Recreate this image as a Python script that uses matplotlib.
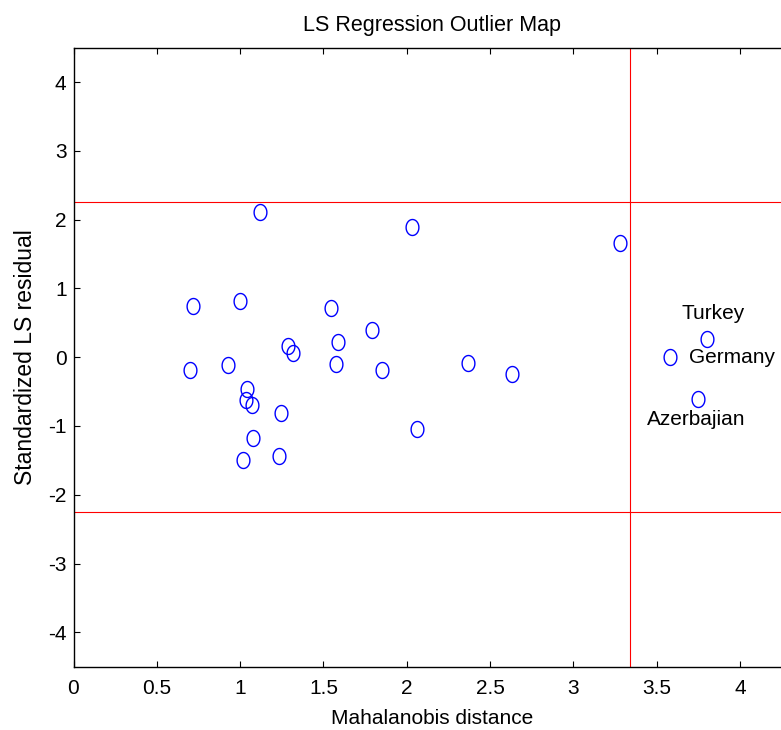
import numpy as np
import matplotlib
matplotlib.use("Agg")
import matplotlib.pyplot as plt
from matplotlib.path import Path

plt.rcParams['font.family'] = ['Liberation Sans', 'DejaVu Sans']
plt.rcParams['axes.unicode_minus'] = False

# Data
mahal = [0.72, 1.00, 1.12, 0.70, 0.93, 1.04, 1.035, 1.07, 1.08, 1.02, 1.245, 1.235,
         1.29, 1.32, 1.545, 1.585, 1.575, 1.79, 1.85, 2.03, 2.06, 2.37, 2.63,
         3.28, 3.80, 3.58, 3.75]
resid = [0.74, 0.82, 2.11, -0.18, -0.12, -0.46, -0.62, -0.70, -1.17, -1.49, -0.81, -1.44,
         0.17, 0.06, 0.72, 0.22, -0.10, 0.40, -0.18, 1.90, -1.04, -0.08, -0.25,
         1.66, 0.27, 0.00, -0.61]
labels = {"Turkey": 24, "Germany": 25, "Azerbajian": 26}
label_offsets = {"Turkey": (0.04, 0.36), "Germany": (0.37, 0.0), "Azerbajian": (-0.01, -0.30)}
resid_cut = 2.25
dist_cut = 3.338
xticks = [0, 0.5, 1, 1.5, 2, 2.5, 3, 3.5, 4]
xticklabels = ['0', '0.5', '1', '1.5', '2', '2.5', '3', '3.5', '4']
yticks = [-4, -3, -2, -1, 0, 1, 2, 3, 4]

W, H = 781, 730
fig = plt.figure(figsize=(W / 100, H / 100), dpi=100)
left_px, top_px, bot_px = 73.5, 47.7, 666.7
right_px = left_px + 4.3 * 166.6
ax = fig.add_axes([left_px / W, (H - bot_px) / H, (right_px - left_px) / W, (bot_px - top_px) / H])

# slightly tall ellipse marker
t = np.linspace(0, 2 * np.pi, 60)
ell = Path(np.column_stack([0.8 * np.cos(t), np.sin(t)]), closed=True)

ax.plot(mahal, resid, linestyle='none', marker=ell, markersize=11.5,
        markerfacecolor='none', markeredgecolor='#0000ff', markeredgewidth=1.0)

ax.axhline(resid_cut, color='#ff0000', lw=0.8)
ax.axhline(-resid_cut, color='#ff0000', lw=0.8)
ax.axvline(dist_cut, color='#ff0000', lw=0.8)

fs = 15
for name, i in labels.items():
    dx, dy = label_offsets[name]
    ax.text(mahal[i] + dx, resid[i] + dy, name, ha='center', va='center', fontsize=fs)

ax.set_xlim(0, 4.3)
ax.set_ylim(-4.5, 4.5)
ax.set_xticks(xticks)
ax.set_xticklabels(xticklabels)
ax.set_yticks(yticks)
ax.tick_params(direction='in', top=True, right=False, labelsize=fs, length=4, width=0.8)
ax.tick_params(axis='x', pad=9)
ax.tick_params(axis='y', pad=5)
for s in ['left', 'bottom', 'top']:
    ax.spines[s].set_linewidth(1.0)
ax.spines['right'].set_visible(False)

ax.set_xlabel('Mahalanobis distance', fontsize=fs, labelpad=7.5)
ax.set_ylabel('Standardized LS residual', fontsize=16.5, labelpad=8)
ax.set_title('LS Regression Outlier Map', fontsize=15.5, pad=12)

fig.savefig('out.png', dpi=100)
